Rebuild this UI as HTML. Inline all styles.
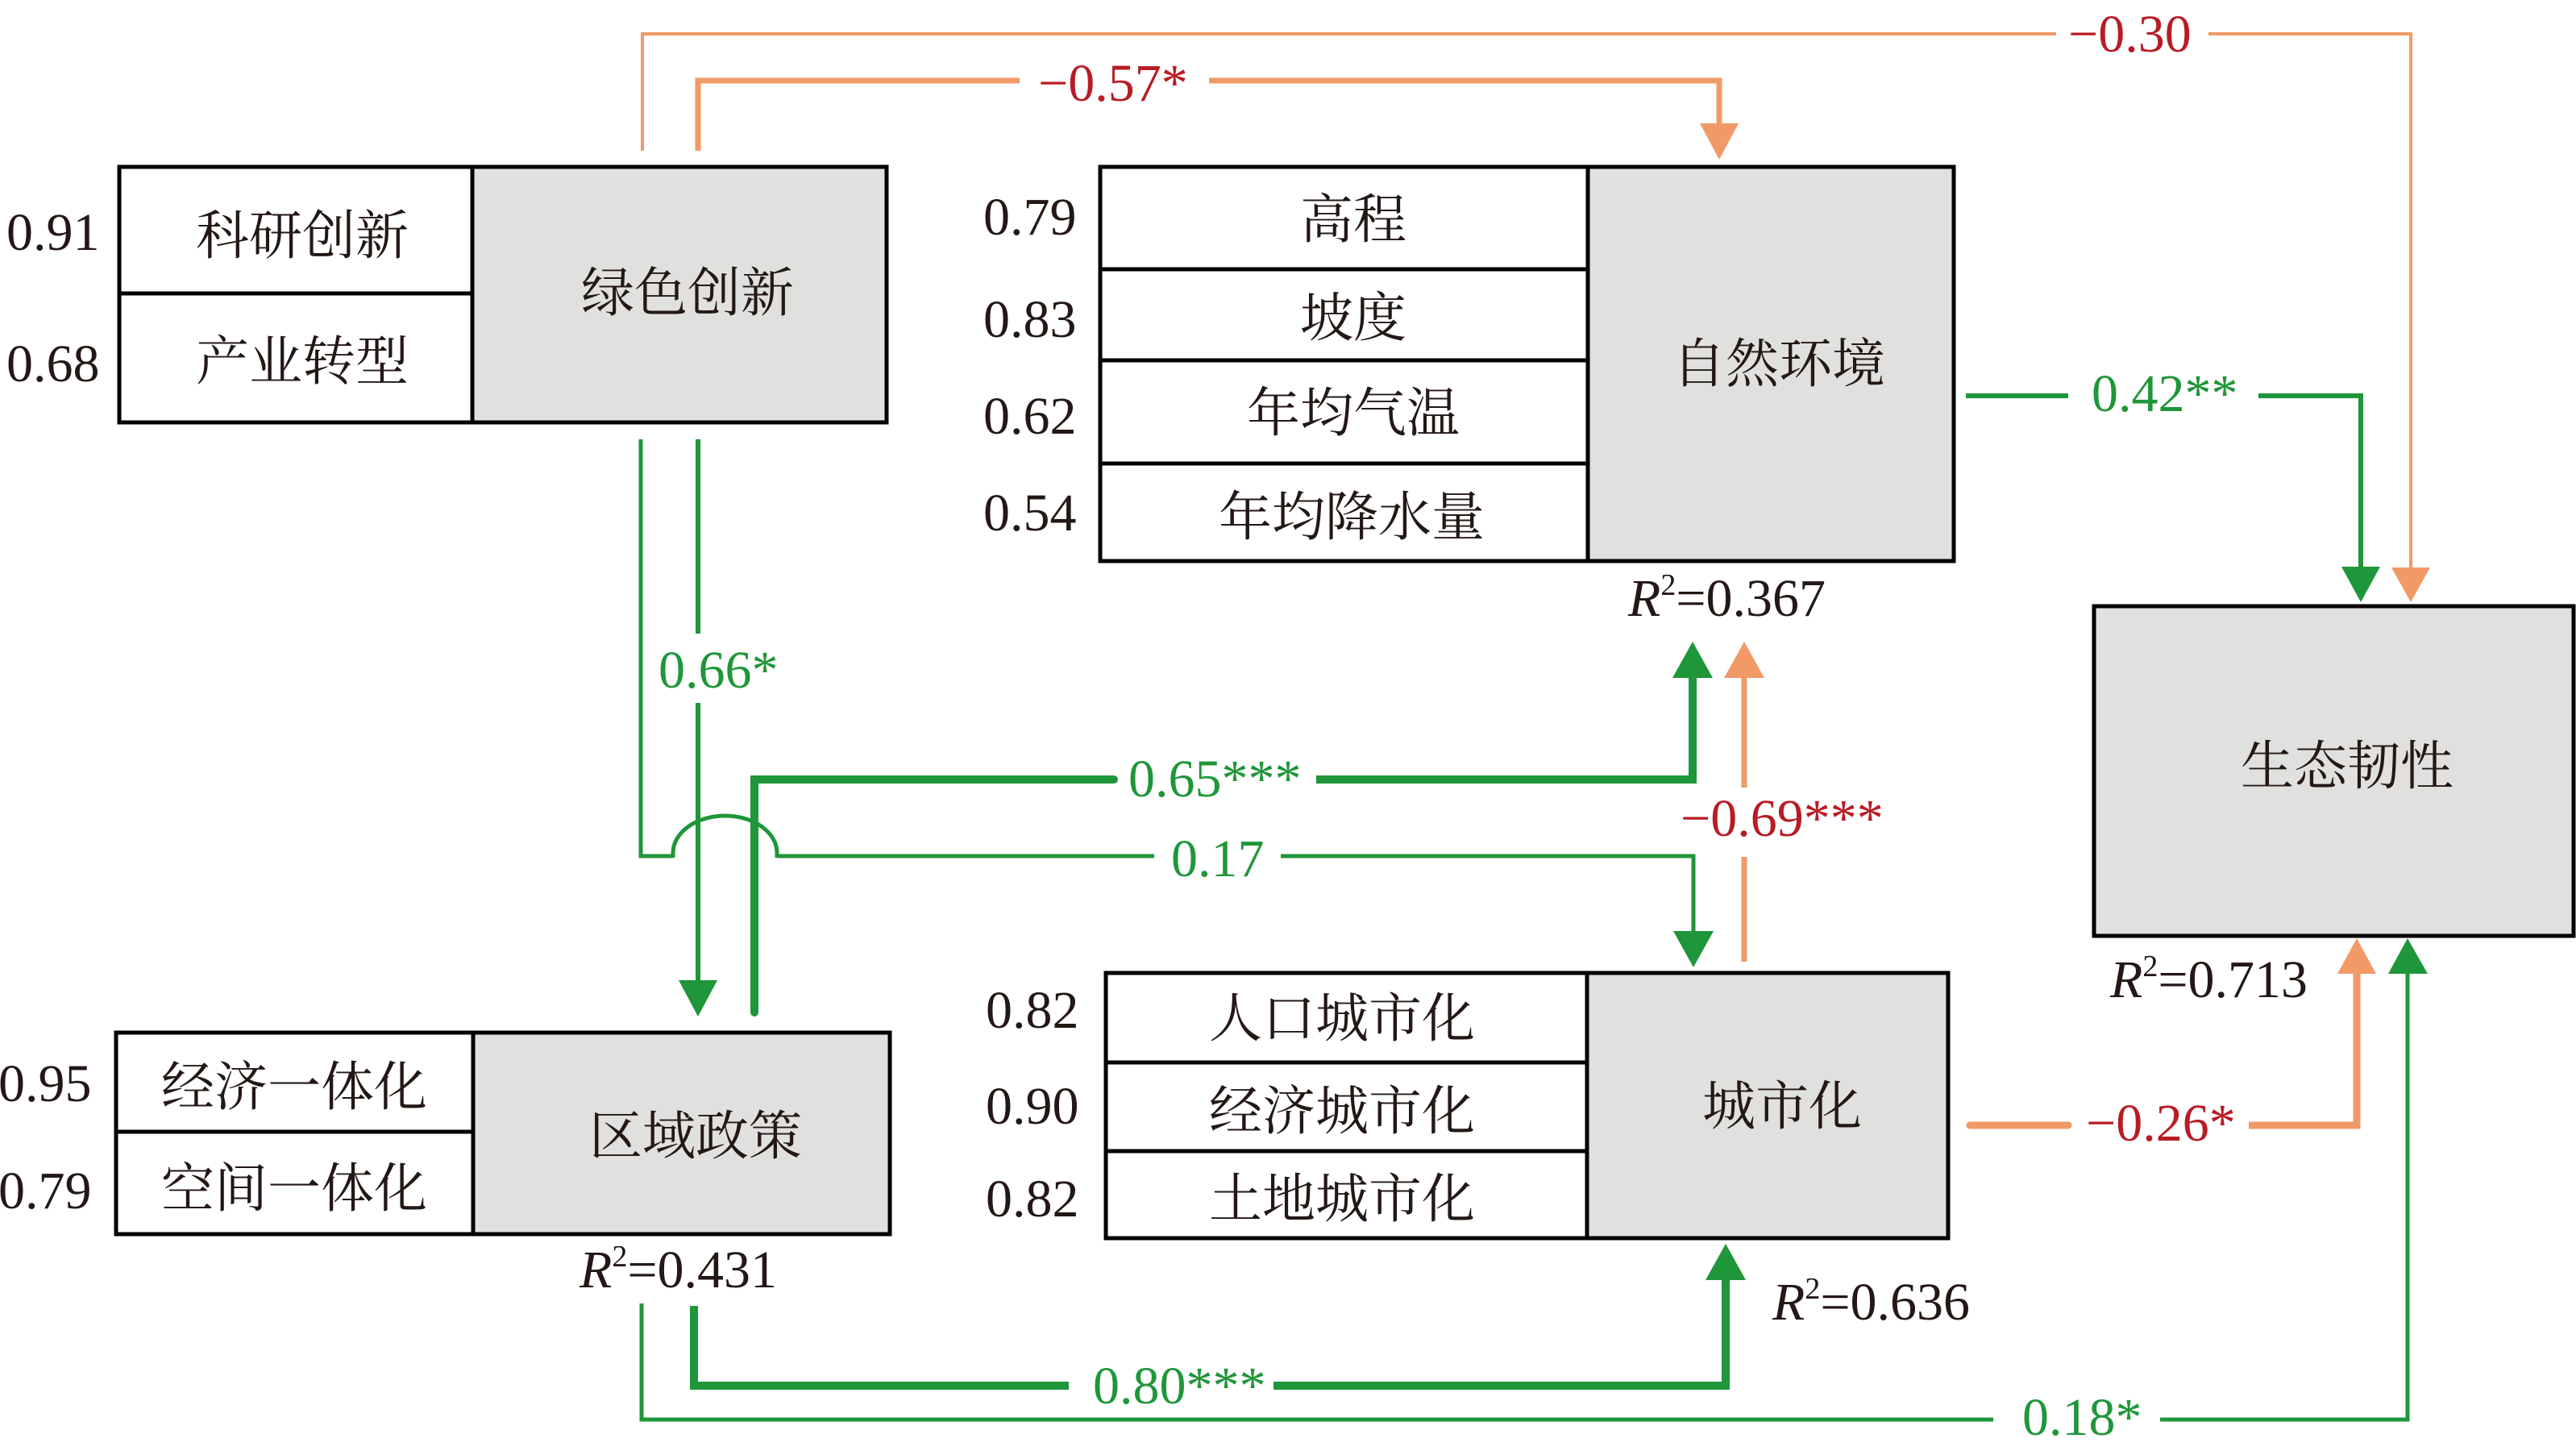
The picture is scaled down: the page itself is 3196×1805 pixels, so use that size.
<!DOCTYPE html>
<html>
<head>
<meta charset="utf-8">
<style>
html,body{margin:0;padding:0;background:#fff;}
svg{display:block;}
.cjk{font-family:"Liberation Serif","Noto Serif CJK SC","Noto Sans CJK SC",serif;font-size:66px;fill:#231815;}
.num{font-family:"Liberation Serif",serif;font-size:66px;fill:#231815;}
.g{fill:#1f9639;}
.r{fill:#b81c25;}
</style>
</head>
<body>
<svg width="3196" height="1805" viewBox="0 0 3196 1805" xmlns="http://www.w3.org/2000/svg">
<rect x="0" y="0" width="3196" height="1805" fill="#fff"/>

<!-- ============ BOXES ============ -->
<!-- Green innovation -->
<rect x="148" y="207" width="952" height="317" fill="#fff"/>
<rect x="586" y="207" width="514" height="317" fill="#e0e0df"/>
<rect x="148" y="207" width="952" height="317" fill="none" stroke="#000" stroke-width="5"/>
<line x1="586" y1="207" x2="586" y2="524" stroke="#000" stroke-width="5"/>
<line x1="148" y1="364" x2="586" y2="364" stroke="#000" stroke-width="5"/>

<!-- Natural environment -->
<rect x="1365" y="207" width="1059" height="489" fill="#fff"/>
<rect x="1970" y="207" width="454" height="489" fill="#e0e0df"/>
<rect x="1365" y="207" width="1059" height="489" fill="none" stroke="#000" stroke-width="5"/>
<line x1="1970" y1="207" x2="1970" y2="696" stroke="#000" stroke-width="5"/>
<line x1="1365" y1="334" x2="1970" y2="334" stroke="#000" stroke-width="5"/>
<line x1="1365" y1="447" x2="1970" y2="447" stroke="#000" stroke-width="5"/>
<line x1="1365" y1="575" x2="1970" y2="575" stroke="#000" stroke-width="5"/>

<!-- Ecological resilience -->
<rect x="2598" y="752" width="595" height="409" fill="#e0e0df" stroke="#000" stroke-width="5"/>

<!-- Regional policy -->
<rect x="144" y="1281" width="960" height="250" fill="#fff"/>
<rect x="587" y="1281" width="517" height="250" fill="#e0e0df"/>
<rect x="144" y="1281" width="960" height="250" fill="none" stroke="#000" stroke-width="5"/>
<line x1="587" y1="1281" x2="587" y2="1531" stroke="#000" stroke-width="5"/>
<line x1="144" y1="1404" x2="587" y2="1404" stroke="#000" stroke-width="5"/>

<!-- Urbanization -->
<rect x="1372" y="1207" width="1045" height="329" fill="#fff"/>
<rect x="1969" y="1207" width="448" height="329" fill="#e0e0df"/>
<rect x="1372" y="1207" width="1045" height="329" fill="none" stroke="#000" stroke-width="5"/>
<line x1="1969" y1="1207" x2="1969" y2="1536" stroke="#000" stroke-width="5"/>
<line x1="1372" y1="1318" x2="1969" y2="1318" stroke="#000" stroke-width="5"/>
<line x1="1372" y1="1428" x2="1969" y2="1428" stroke="#000" stroke-width="5"/>

<!-- ============ BOX TEXT ============ -->
<text class="cjk" x="375" y="315" text-anchor="middle">科研创新</text>
<text class="cjk" x="375" y="471" text-anchor="middle">产业转型</text>
<text class="cjk" x="853" y="386" text-anchor="middle">绿色创新</text>

<text class="cjk" x="1679" y="295" text-anchor="middle">高程</text>
<text class="cjk" x="1679" y="417" text-anchor="middle">坡度</text>
<text class="cjk" x="1679" y="535" text-anchor="middle">年均气温</text>
<text class="cjk" x="1677" y="664" text-anchor="middle">年均降水量</text>
<text class="cjk" x="2207" y="474" text-anchor="middle">自然环境</text>

<text class="cjk" x="2912" y="973" text-anchor="middle">生态韧性</text>

<text class="cjk" x="365" y="1371" text-anchor="middle">经济一体化</text>
<text class="cjk" x="365" y="1497" text-anchor="middle">空间一体化</text>
<text class="cjk" x="863" y="1432" text-anchor="middle">区域政策</text>

<text class="cjk" x="1665" y="1286" text-anchor="middle">人口城市化</text>
<text class="cjk" x="1665" y="1401" text-anchor="middle">经济城市化</text>
<text class="cjk" x="1665" y="1510" text-anchor="middle">土地城市化</text>
<text class="cjk" x="2211" y="1395" text-anchor="middle">城市化</text>

<!-- loadings -->
<text class="num" x="8" y="310">0.91</text>
<text class="num" x="8" y="473">0.68</text>
<text class="num" x="1220" y="291">0.79</text>
<text class="num" x="1220" y="418">0.83</text>
<text class="num" x="1220" y="538">0.62</text>
<text class="num" x="1220" y="658">0.54</text>
<text class="num" x="-2" y="1366">0.95</text>
<text class="num" x="-2" y="1499">0.79</text>
<text class="num" x="1223" y="1275">0.82</text>
<text class="num" x="1223" y="1394">0.90</text>
<text class="num" x="1223" y="1509">0.82</text>

<!-- R2 labels -->
<text class="num" x="2020" y="764"><tspan font-style="italic">R</tspan><tspan font-size="38" dy="-26">2</tspan><tspan dy="26">=0.367</tspan></text>
<text class="num" x="719" y="1597"><tspan font-style="italic">R</tspan><tspan font-size="38" dy="-26">2</tspan><tspan dy="26">=0.431</tspan></text>
<text class="num" x="2199" y="1637"><tspan font-style="italic">R</tspan><tspan font-size="38" dy="-26">2</tspan><tspan dy="26">=0.636</tspan></text>
<text class="num" x="2618" y="1237"><tspan font-style="italic">R</tspan><tspan font-size="38" dy="-26">2</tspan><tspan dy="26">=0.713</tspan></text>

<!-- ============ CONNECTORS ============ -->
<g fill="none" stroke-linejoin="miter">
  <!-- A: -0.30 orange thin -->
  <polyline points="797,187 797,42 2551,42" stroke="#f19a68" stroke-width="4"/>
  <polyline points="2740,42 2991,42 2991,706" stroke="#f19a68" stroke-width="4"/>
  <!-- B: -0.57* orange -->
  <polyline points="866,187 866,100 1265,100" stroke="#f19a68" stroke-width="7"/>
  <polyline points="1500,100 2133,100 2133,155" stroke="#f19a68" stroke-width="7"/>
  <!-- C: 0.66* green -->
  <line x1="866" y1="545" x2="866" y2="786" stroke="#1f9639" stroke-width="6"/>
  <line x1="866" y1="872" x2="866" y2="1218" stroke="#1f9639" stroke-width="6"/>
  <!-- D: 0.17 green thin with hop -->
  <polyline points="795,545 795,1062 835,1062" stroke="#1f9639" stroke-width="5"/>
  <path d="M835,1064 L835,1058 A64.5,46 0 0 1 964,1058 L964,1064" stroke="#1f9639" stroke-width="5"/>
  <line x1="964" y1="1062" x2="1432" y2="1062" stroke="#1f9639" stroke-width="5"/>
  <polyline points="1589,1062 2101,1062 2101,1157" stroke="#1f9639" stroke-width="5"/>
  <!-- E: 0.65*** green thick -->
  <polyline points="936,1256 936,967 1382,967" stroke="#1f9639" stroke-width="10" stroke-linecap="round"/>
  <polyline points="1633,967 2100,967 2100,839" stroke="#1f9639" stroke-width="10"/>
  <!-- F: -0.69*** orange -->
  <line x1="2164" y1="1193" x2="2164" y2="1063" stroke="#f19a68" stroke-width="7"/>
  <line x1="2164" y1="977" x2="2164" y2="839" stroke="#f19a68" stroke-width="7"/>
  <!-- G: 0.42** green -->
  <line x1="2439" y1="491" x2="2566" y2="491" stroke="#1f9639" stroke-width="6"/>
  <polyline points="2802,491 2929,491 2929,705" stroke="#1f9639" stroke-width="6"/>
  <!-- H: -0.26* orange thick -->
  <line x1="2444" y1="1396" x2="2566" y2="1396" stroke="#f19a68" stroke-width="9" stroke-linecap="round"/>
  <polyline points="2790,1396 2924,1396 2924,1206" stroke="#f19a68" stroke-width="9"/>
  <!-- I: 0.80*** green thick -->
  <polyline points="861,1620 861,1719 1326,1719" stroke="#1f9639" stroke-width="10"/>
  <polyline points="1580,1719 2141,1719 2141,1586" stroke="#1f9639" stroke-width="10"/>
  <!-- J: 0.18* green thin -->
  <polyline points="796,1617 796,1761 2473,1761" stroke="#1f9639" stroke-width="5"/>
  <polyline points="2680,1761 2987,1761 2987,1206" stroke="#1f9639" stroke-width="5"/>
</g>

<!-- arrowheads -->
<polygon points="2967,704 3015,704 2991,747" fill="#f19a68"/>
<polygon points="2109,153 2157,153 2133,198" fill="#f19a68"/>
<polygon points="842,1216 890,1216 866,1261" fill="#1f9639"/>
<polygon points="2076,1155 2126,1155 2101,1200" fill="#1f9639"/>
<polygon points="2075,841 2125,841 2100,796" fill="#1f9639"/>
<polygon points="2139,841 2189,841 2164,796" fill="#f19a68"/>
<polygon points="2905,703 2953,703 2929,747" fill="#1f9639"/>
<polygon points="2900,1208 2948,1208 2924,1164" fill="#f19a68"/>
<polygon points="2116,1588 2166,1588 2141,1543" fill="#1f9639"/>
<polygon points="2963,1208 3012,1208 2987,1164" fill="#1f9639"/>

<!-- edge labels -->
<text class="num r" x="2566" y="64">−0.30</text>
<text class="num r" x="1288" y="125">−0.57*</text>
<text class="num g" x="2595" y="510">0.42**</text>
<text class="num g" x="817" y="853">0.66*</text>
<text class="num g" x="1400" y="988">0.65***</text>
<text class="num g" x="1453" y="1087">0.17</text>
<text class="num r" x="2085" y="1037">−0.69***</text>
<text class="num r" x="2588" y="1415">−0.26*</text>
<text class="num g" x="1356" y="1741">0.80***</text>
<text class="num g" x="2509" y="1780">0.18*</text>
</svg>
</body>
</html>
